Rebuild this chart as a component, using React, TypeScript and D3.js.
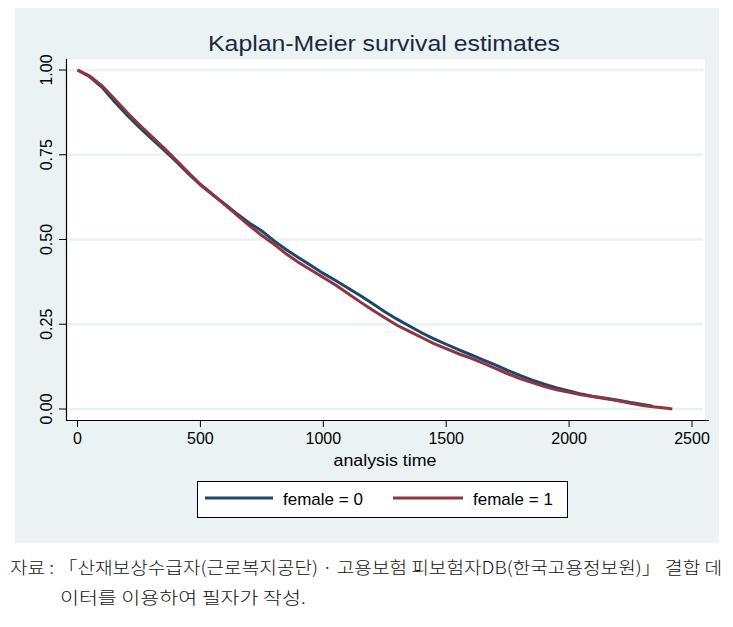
import React from "react";
import * as d3 from "d3";

const titleText = "Kaplan-Meier survival estimates";
const xTicks = [0, 500, 1000, 1500, 2000, 2500];
const yTicks = [0, 0.25, 0.5, 0.75, 1];
const yTickLabels = ["0.00", "0.25", "0.50", "0.75", "1.00"];
const seriesNames = ["female = 0", "female = 1"];
const seriesColors = ["#1a476f", "#90353b"];

const timesMale = [0, 50, 100, 150, 200, 250, 300, 350, 400, 450, 500, 550, 600, 650, 700, 750, 800, 850, 900, 950, 1000, 1050, 1100, 1150, 1200, 1250, 1300, 1350, 1400, 1450, 1500, 1550, 1600, 1650, 1700, 1750, 1800, 1850, 1900, 1950, 2000, 2050, 2100, 2150, 2200, 2250, 2300, 2340];
const survMale = [1.0, 0.98, 0.949, 0.907, 0.868, 0.832, 0.798, 0.765, 0.731, 0.695, 0.661, 0.632, 0.604, 0.575, 0.548, 0.525, 0.496, 0.47, 0.446, 0.423, 0.4, 0.379, 0.357, 0.335, 0.311, 0.287, 0.265, 0.245, 0.225, 0.207, 0.191, 0.175, 0.16, 0.145, 0.13, 0.114, 0.099, 0.085, 0.073, 0.062, 0.053, 0.044, 0.037, 0.032, 0.026, 0.019, 0.013, 0.008];

const timesFemale = [0, 50, 100, 150, 200, 250, 300, 350, 400, 450, 500, 550, 600, 650, 700, 750, 800, 850, 900, 950, 1000, 1050, 1100, 1150, 1200, 1250, 1300, 1350, 1400, 1450, 1500, 1550, 1600, 1650, 1700, 1750, 1800, 1850, 1900, 1950, 2000, 2050, 2100, 2150, 2200, 2250, 2300, 2350, 2400, 2420];
const survFemale = [1.0, 0.982, 0.953, 0.915, 0.876, 0.84, 0.805, 0.771, 0.735, 0.698, 0.663, 0.633, 0.602, 0.571, 0.54, 0.512, 0.486, 0.457, 0.432, 0.41, 0.388, 0.366, 0.341, 0.316, 0.292, 0.269, 0.247, 0.229, 0.211, 0.193, 0.178, 0.163, 0.15, 0.135, 0.12, 0.104, 0.09, 0.078, 0.066, 0.057, 0.049, 0.042, 0.036, 0.03, 0.024, 0.017, 0.01, 0.006, 0.002, 0.0];

const footLine1 = "자료 : 「산재보상수급자(근로복지공단) · 고용보험 피보험자DB(한국고용정보원)」 결합 데";
const footLine2 = "이터를 이용하여 필자가 작성.";

export default function App() {
  const W = 733, H = 627;
  const plotL = 66, plotR = 705, plotT = 59, plotB = 420;
  const x = d3.scaleLinear().domain([0, 2500]).range([77.5, 692]);
  const y = d3.scaleLinear().domain([0, 1]).range([409, 70]);
  const line = d3
    .line<[number, number]>()
    .x((d) => x(d[0]))
    .y((d) => y(d[1]))
    .curve(d3.curveLinear);
  const male = timesMale.map((t, i) => [t, survMale[i]] as [number, number]);
  const female = timesFemale.map((t, i) => [t, survFemale[i]] as [number, number]);
  const font = "Liberation Sans, Arial, sans-serif";
  const bg = "#eaf2f3";

  return (
    <svg
      width={W}
      height={H}
      style={{ position: "absolute", left: 0, top: 0, background: "#ffffff" }}
      fontFamily={font}
    >
      <rect x={15} y={8} width={704} height={535} fill={bg} />
      <rect x={plotL} y={plotT} width={plotR - plotL} height={plotB - plotT} fill="#ffffff" />
      {yTicks.map((v) => (
        <line key={"g" + v} x1={plotL + 2} x2={plotR - 2} y1={y(v)} y2={y(v)} stroke={bg} strokeWidth={2.5} />
      ))}
      <text x={384} y={51} textAnchor="middle" fontSize={22} fill="#1c2841" textLength={352} lengthAdjust="spacingAndGlyphs">
        {titleText}
      </text>
      {/* axes */}
      <line x1={plotL + 0.5} x2={plotL + 0.5} y1={plotT} y2={plotB} stroke="#000" strokeWidth={1.2} />
      <line x1={plotL} x2={plotR + 4} y1={plotB + 0.5} y2={plotB + 0.5} stroke="#000" strokeWidth={1.2} />
      {yTicks.map((v, i) => (
        <g key={"y" + v}>
          <line x1={59} x2={plotL} y1={y(v)} y2={y(v)} stroke="#000" strokeWidth={1} />
          <text
            transform={`translate(52,${y(v)}) rotate(-90)`}
            textAnchor="middle"
            fontSize={16}
            fill="#000"
          >
            {yTickLabels[i]}
          </text>
        </g>
      ))}
      {xTicks.map((v) => (
        <g key={"x" + v}>
          <line x1={x(v)} x2={x(v)} y1={plotB} y2={plotB + 7} stroke="#000" strokeWidth={1} />
          <text x={x(v)} y={444} textAnchor="middle" fontSize={16} fill="#000">
            {v}
          </text>
        </g>
      ))}
      <text x={385} y={466} textAnchor="middle" fontSize={16} fill="#000" textLength={103} lengthAdjust="spacingAndGlyphs">
        analysis time
      </text>
      {/* curves */}
      <path d={line(male) || ""} fill="none" stroke={seriesColors[0]} strokeWidth={3} strokeLinejoin="miter" />
      <path d={line(female) || ""} fill="none" stroke={seriesColors[1]} strokeWidth={3} strokeLinejoin="miter" />
      {/* legend */}
      <rect x={197.5} y={481.5} width={370} height={36} fill="#fff" stroke="#000" strokeWidth={1} />
      <line x1={205} x2={273} y1={498} y2={498} stroke={seriesColors[0]} strokeWidth={3} />
      <text x={283} y={505} fontSize={17} fill="#000">{seriesNames[0]}</text>
      <line x1={393} x2={463} y1={498} y2={498} stroke={seriesColors[1]} strokeWidth={3} />
      <text x={473} y={505} fontSize={17} fill="#000">{seriesNames[1]}</text>
      {/* footnote */}
      <text
        x={10}
        y={574}
        fontSize={17}
        fontFamily="Noto Sans CJK KR"
        fontWeight={300}
        fill="#111"
        textLength={712}
        lengthAdjust="spacingAndGlyphs"
      >
        {footLine1}
      </text>
      <text x={60} y={604} fontSize={17} fontFamily="Noto Sans CJK KR" fontWeight={300} fill="#111" textLength={246} lengthAdjust="spacingAndGlyphs">
        {footLine2}
      </text>
    </svg>
  );
}
